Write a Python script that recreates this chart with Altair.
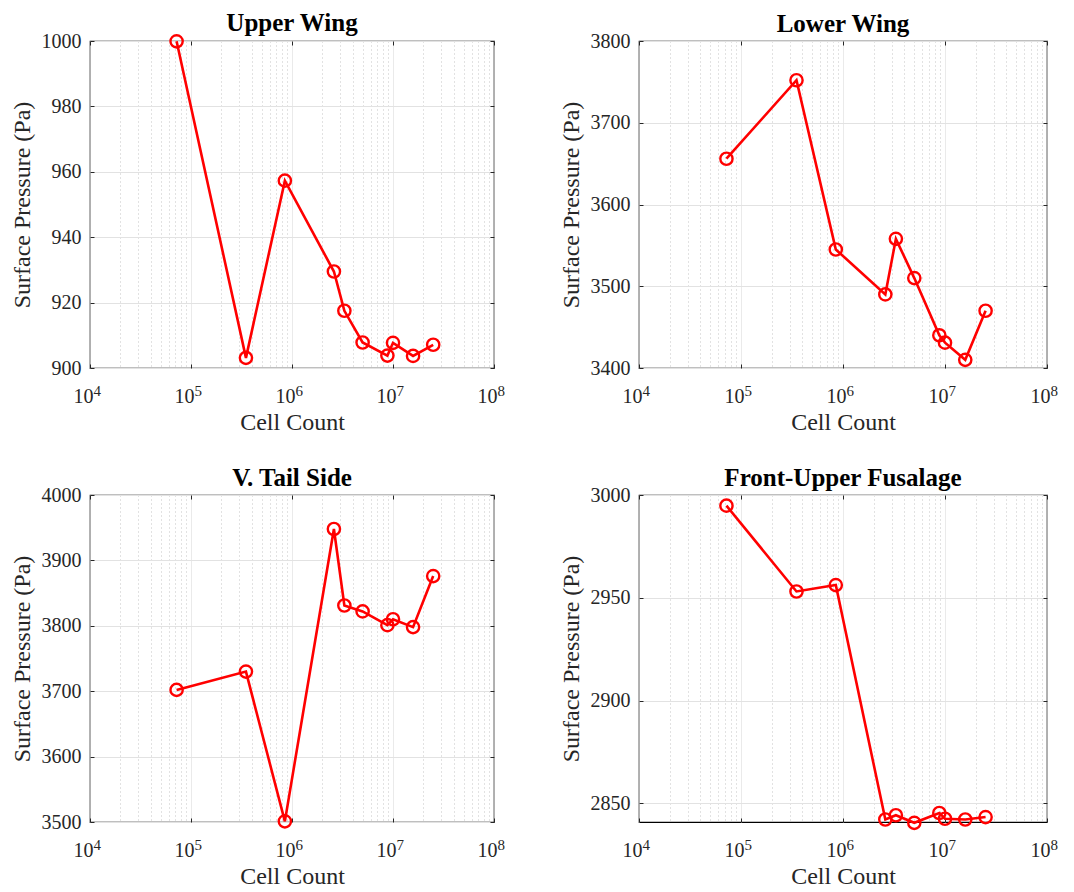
import altair as alt
import pandas as pd

cells = [7.2e4, 3.5e5, 8.5e5, 2.6e6, 3.3e6, 5.0e6, 8.8e6, 1.0e7, 1.58e7, 2.5e7]
upper_wing = [999.9, 903.1, 957.3, 929.5, 917.5, 907.8, 903.8, 907.7, 903.7, 907.1]
lower_wing = [3656, 3752, 3545, 3490, 3558, 3510, 3440, 3431, 3410, 3470]
v_tail = [3702, 3730, 3501, 3948, 3831, 3822, 3801, 3810, 3798, 3876]
front_fus = [2994.8, 2953.1, 2956.2, 2842.2, 2844.3, 2840.6, 2845.4, 2842.6, 2842.2, 2843.4]

titles = ["Upper Wing", "Lower Wing", "V. Tail Side", "Front-Upper Fusalage"]
series = [upper_wing, lower_wing, v_tail, front_fus]
y_domains = [[900, 1000], [3400, 3800], [3500, 4000], [2841, 3000]]
y_ticks = [[900, 920, 940, 960, 980, 1000], [3400, 3500, 3600, 3700, 3800],
           [3500, 3600, 3700, 3800, 3900, 4000], [2850, 2900, 2950, 3000]]
widths = [404, 408, 404, 408]

major_x = [10**4, 10**5, 10**6, 10**7, 10**8]
minor_x = [k * 10**e for e in range(4, 8) for k in range(2, 10)]
all_x = sorted(major_x + minor_x)
exps = ["4", "5", "6", "7", "8"]

FONT = "Liberation Serif"
AX = "#262626"
is_major = "indexof([10000,100000,1000000,10000000,100000000], datum.value) >= 0"


def panel(title, vals, ydom, yt, w):
    df = pd.DataFrame({"cells": cells, "p": vals})
    xs = alt.Scale(type="log", domain=[1e4, 1e8], nice=False)
    ys = alt.Scale(domain=ydom, nice=False, zero=False)

    line = alt.Chart(df).mark_line(color="#ff0000", strokeWidth=2.6).encode(
        x=alt.X("cells:Q", scale=xs, title="Cell Count",
                axis=alt.Axis(orient="bottom", values=all_x, grid=True,
                              gridColor={"condition": {"test": is_major, "value": "#e2e2e2"}, "value": "#c4c4c4"},
                              gridDash={"condition": {"test": is_major, "value": [1, 0]}, "value": [1, 3]},
                              gridWidth=1, tickSize=0, domain=False,
                              labelExpr=is_major + " ? '10' : ''", labelAlign="right", labelOffset=3,
                              labelPadding=18, labelFontSize=20, labelFont=FONT, labelColor=AX,
                              labelOverlap=False, labelFlush=False,
                              titleFont=FONT, titleFontSize=24, titleFontWeight="normal",
                              titleColor=AX, titlePadding=4)),
        y=alt.Y("p:Q", scale=ys, title="Surface Pressure (Pa)",
                axis=alt.Axis(orient="left", values=yt, grid=True, gridColor="#e2e2e2",
                              format="d", tickSize=0, domain=False, labelPadding=9,
                              labelFontSize=20, labelFont=FONT, labelColor=AX,
                              labelOverlap=False, labelFlush=False,
                              titleFont=FONT, titleFontSize=24, titleFontWeight="normal",
                              titleColor=AX, titlePadding=7)),
    )
    pts = alt.Chart(df).mark_point(shape="circle", size=150, filled=False,
                                   color="#ff0000", strokeWidth=2.4, opacity=1).encode(
        x=alt.X("cells:Q", scale=xs, title=None,
                axis=alt.Axis(orient="bottom", values=major_x, grid=False, offset=-4,
                              tickSize=4, tickColor=AX, domain=False,
                              labelExpr="['4','5','6','7','8'][indexof([10000,100000,1000000,10000000,100000000], datum.value)]",
                              labelAlign="left", labelOffset=3, labelPadding=15, labelFontSize=15,
                              labelFont=FONT, labelColor=AX, labelOverlap=False, labelFlush=False)),
        y=alt.Y("p:Q", scale=ys, title=None,
                axis=alt.Axis(orient="left", values=yt, grid=False, offset=-4, tickSize=4,
                              tickColor=AX, domain=False, labels=False)),
    )
    ghost = alt.Chart(df).mark_point(opacity=0).encode(
        x=alt.X("cells:Q", scale=xs, title=None,
                axis=alt.Axis(orient="top", values=major_x, grid=False, offset=-4,
                              tickSize=4, tickColor=AX, domain=False, labels=False)),
        y=alt.Y("p:Q", scale=ys, title=None,
                axis=alt.Axis(orient="right", values=yt, grid=False, offset=-4, tickSize=4,
                              tickColor=AX, domain=False, labels=False)),
    )
    return alt.layer(line, pts, ghost).resolve_axis(x="independent", y="independent").properties(
        width=w, height=327,
        title=alt.TitleParams(title, font=FONT, fontSize=25, fontWeight="bold",
                              color="#000000", offset=-6),
    )


charts = [panel(t, v, d, yt, w) for t, v, d, yt, w in zip(titles, series, y_domains, y_ticks, widths)]
top = alt.hconcat(charts[0], charts[1], spacing=52)
bottom = alt.hconcat(charts[2], charts[3], spacing=52)
chart = alt.vconcat(top, bottom, spacing=30).properties(
    padding={"left": 9, "top": 10, "right": 5, "bottom": 5},
    background="white",
).configure(font=FONT).configure_view(stroke="#000000", strokeWidth=1.2)

chart.save("out.html", embed_options={"renderer": "svg", "actions": False})
